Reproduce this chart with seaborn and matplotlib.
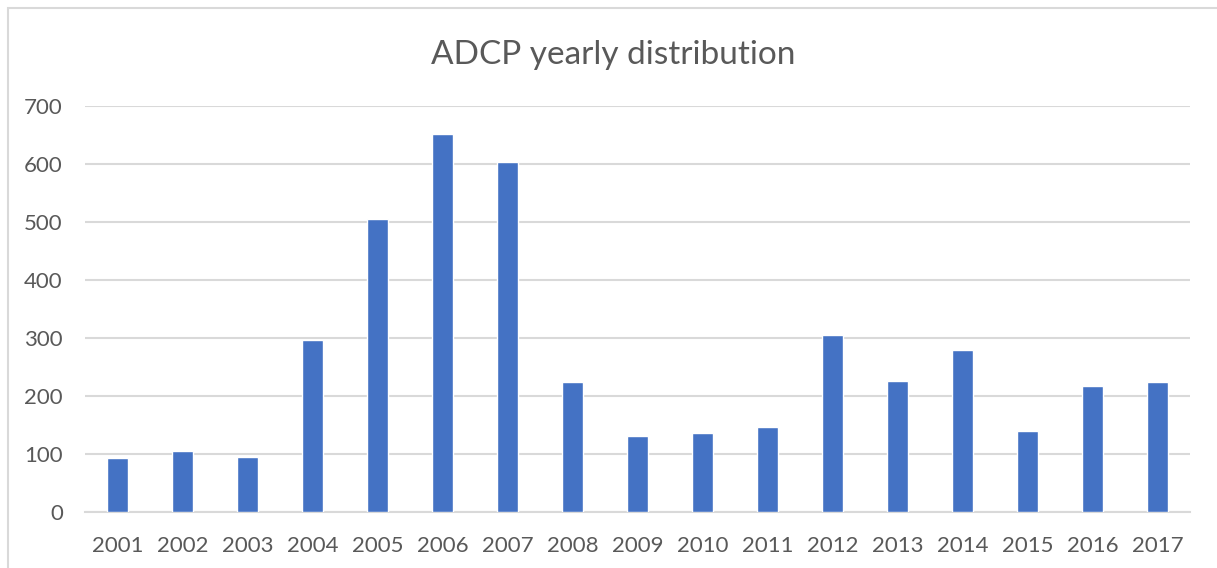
import matplotlib
matplotlib.use('Agg')
import matplotlib.pyplot as plt
import seaborn as sns
import pandas as pd
from matplotlib.patches import Rectangle

years = ['2001', '2002', '2003', '2004', '2005', '2006', '2007', '2008', '2009',
         '2010', '2011', '2012', '2013', '2014', '2015', '2016', '2017']
counts = [93, 106, 95, 297, 506, 652, 603, 224, 131,
          136, 147, 305, 226, 280, 140, 217, 224]
yticks = [0, 100, 200, 300, 400, 500, 600, 700]

df = pd.DataFrame({'year': years, 'count': counts})

sns.set_style('white')
plt.rcParams['font.family'] = ['Lato', 'DejaVu Sans']

fig = plt.figure(figsize=(12.17, 5.68), dpi=100)
ax = fig.add_axes([85 / 1217, 1 - 512 / 568, (1190 - 85) / 1217, (512 - 106) / 568])

sns.barplot(data=df, x='year', y='count', color='#4472C4', width=0.32,
            saturation=1, ax=ax, zorder=3)

ax.set_ylim(0, 700)
ax.set_xlim(-0.5, len(years) - 0.5)
ax.set_yticks(yticks)
ax.yaxis.grid(True, color='#d9d9d9', linewidth=1.5, zorder=0)
ax.set_axisbelow(True)
for s in ['top', 'right', 'left']:
    ax.spines[s].set_visible(False)
ax.spines['bottom'].set_color('#d9d9d9')
ax.spines['bottom'].set_linewidth(1.5)
ax.tick_params(axis='both', length=0, labelsize=16, colors='#595959')
ax.tick_params(axis='y', pad=16)
ax.tick_params(axis='x', pad=17)
ax.set_xlabel('')
ax.set_ylabel('')

fig.text(613 / 1217, 1 - 55 / 568, 'ADCP yearly distribution', ha='center', va='center',
         fontsize=24, color='#595959')

# chart area border (cropped on right and bottom)
fig.patches.append(Rectangle((8 / 1217, -0.1), 1.2, 1.1 - 8 / 568, transform=fig.transFigure,
                             fill=False, edgecolor='#d9d9d9', linewidth=1.5))

fig.savefig('out.png', dpi=100)
